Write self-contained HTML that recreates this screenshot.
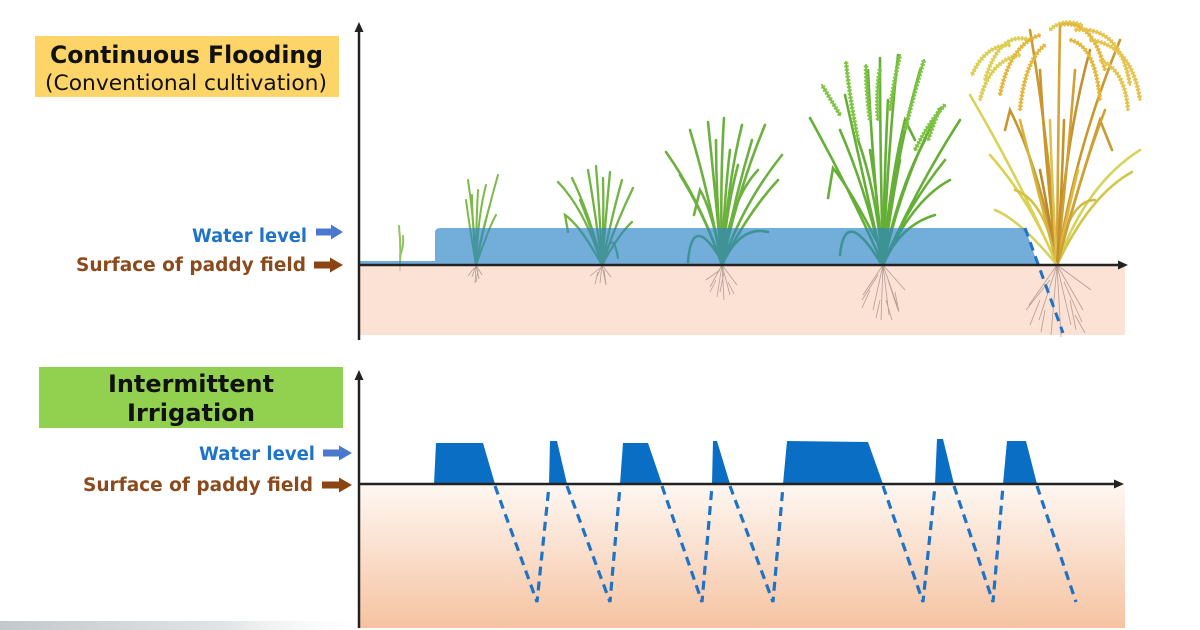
<!DOCTYPE html>
<html><head><meta charset="utf-8"><style>
html,body{margin:0;padding:0;background:#fff;}
svg{display:block;}
text{font-family:"DejaVu Sans","Liberation Sans",sans-serif;}
</style></head><body>
<svg width="1200" height="630" viewBox="0 0 1200 630" xmlns="http://www.w3.org/2000/svg">
<defs>
<linearGradient id="soil2" x1="0" y1="0" x2="0" y2="1">
<stop offset="0" stop-color="#fef7f2"/><stop offset="1" stop-color="#f6c3a1"/></linearGradient>
<linearGradient id="gray" x1="0" y1="0" x2="1" y2="0">
<stop offset="0" stop-color="#c3c8cc"/><stop offset="0.6" stop-color="#e2e5e7"/><stop offset="1" stop-color="#ffffff" stop-opacity="0"/></linearGradient>
<g id="pan5">
<path d="M858,140 Q850,100 846,62"/><path d="M870,120 Q866,90 866,65"/>
<path d="M890,110 Q894,80 900,55"/><path d="M905,130 Q915,90 924,60"/>
<path d="M915,150 Q930,120 945,105"/><path d="M840,115 Q828,95 822,85"/>
<path d="M878,120 Q876,90 880,68"/><path d="M928,140 Q935,120 940,108"/>
</g>
<g id="pan6a">
<path d="M1030,40 Q1000,30 985,80"/><path d="M1050,30 Q1062,18 1082,25"/>
<path d="M1020,55 Q990,60 980,100"/><path d="M1010,45 Q985,45 972,75"/>
</g>
<g id="pan6b">
<path d="M1040,35 Q1010,45 1000,95"/><path d="M1060,25 Q1092,18 1105,70"/>
<path d="M1045,45 Q1025,60 1020,110"/><path d="M1070,40 Q1095,45 1100,100"/>
</g>
<g id="pan6c">
<path d="M1075,30 Q1120,25 1130,85"/><path d="M1090,40 Q1132,45 1140,100"/>
<path d="M1100,60 Q1125,70 1128,110"/>
</g>
</defs>
<rect width="1200" height="630" fill="#fff"/>
<rect x="0" y="621" width="380" height="9" fill="url(#gray)"/>

<!-- ===== TOP PANEL ===== -->
<rect x="35" y="36" width="304" height="61" fill="#fcd467"/>
<text x="50" y="63" font-size="24" font-weight="bold" fill="#111" textLength="273" lengthAdjust="spacingAndGlyphs">Continuous Flooding</text>
<text x="45" y="90" font-size="21" fill="#111" textLength="282" lengthAdjust="spacingAndGlyphs">(Conventional cultivation)</text>

<text x="192" y="242" font-size="18.5" font-weight="bold" fill="#1f74c7" textLength="115" lengthAdjust="spacingAndGlyphs">Water level</text>
<text x="76" y="271" font-size="18.5" font-weight="bold" fill="#8b4a1c" textLength="230" lengthAdjust="spacingAndGlyphs">Surface of paddy field</text>
<polygon points="316,228.5 331,228.5 331,224.5 343,232 331,239.5 331,235.5 316,235.5" fill="#4a78cf"/>
<polygon points="314,261.5 330,261.5 330,257.5 343,265 330,272.5 330,268.5 314,268.5" fill="#8b4513"/>

<!-- soil -->
<rect x="360" y="265" width="765" height="70" fill="#fbe2d4"/>

<!-- roots -->
<g stroke="#9c8680" stroke-width="0.8" fill="none" opacity="0.75">
<path d="M400,265 l0,6"/>
<path d="M476,265 l-4,12 M476,265 l3,14 M476,265 l-1,18 M476,265 l6,10 M474,268 l-6,8 M478,270 l-2,12"/>
<path d="M602,265 l-6,14 M602,265 l-2,18 M602,265 l4,20 M602,265 l9,12 M600,268 l-10,8 M604,270 l2,14 M598,272 l-3,12"/>
<path d="M722,265 l-12,22 M722,265 l-5,32 M722,265 l2,35 M722,265 l8,30 M722,265 l15,20 M720,270 l-14,10 M724,272 l-4,20 M716,280 l-6,12 M728,282 l6,12"/>
<path d="M883,265 l-20,30 M883,265 l-10,45 M883,265 l-2,55 M883,265 l6,50 M883,265 l14,40 M883,265 l22,25 M878,275 l-16,25 M888,280 l10,30 M870,290 l-8,18 M895,292 l4,20 M880,300 l-4,18 M886,300 l6,20"/>
<path d="M1057,265 l-28,40 M1057,265 l-18,55 M1057,265 l-6,70 M1057,265 l4,72 M1057,265 l14,60 M1057,265 l26,45 M1057,265 l34,25 M1050,280 l-24,30 M1064,282 l18,40 M1040,300 l-10,25 M1070,300 l6,30 M1045,310 l-4,22 M1075,315 l10,18"/>
</g>

<!-- plants -->
<g fill="none" stroke-linecap="round">
<!-- plant 1 -->
<g stroke="#8fc460" stroke-width="2">
<path d="M400,263 Q401,245 399,226"/><path d="M400,256 Q404,246 403,236"/>
</g>
<!-- plant 2 -->
<g stroke="#7cb94a" stroke-width="2">
<path d="M476,265 Q474,220 468,180"/><path d="M476,265 Q478,215 486,185"/>
<path d="M476,265 Q485,220 498,175"/><path d="M476,265 Q470,230 466,200"/>
<path d="M476,265 Q482,230 490,205"/><path d="M476,265 Q476,225 478,190"/>
<path d="M476,265 Q472,215 472,195"/><path d="M476,265 Q490,225 496,215"/>
</g>
<!-- plant 3 -->
<g stroke="#72b443" stroke-width="2.3">
<path d="M602,265 Q585,210 558,182"/><path d="M602,265 Q590,215 572,178"/>
<path d="M602,265 Q595,210 588,170"/><path d="M602,265 Q600,215 596,166"/>
<path d="M602,265 Q606,215 610,172"/><path d="M602,265 Q612,215 622,180"/>
<path d="M602,265 Q615,225 633,188"/><path d="M602,265 Q596,240 580,200"/>
<path d="M604,262 Q612,225 618,258"/><path d="M602,265 Q604,220 603,178"/>
<path d="M602,265 Q580,225 565,215 L568,232"/><path d="M602,265 Q618,235 632,222"/>
</g>
<!-- plant 4 -->
<g stroke="#6cb13e" stroke-width="2.6">
<path d="M722,265 Q700,200 666,152"/><path d="M722,265 Q708,190 690,130"/>
<path d="M722,265 Q714,180 708,122"/><path d="M722,265 Q720,180 724,118"/>
<path d="M722,265 Q728,180 742,125"/><path d="M722,265 Q738,190 765,125"/>
<path d="M722,265 Q742,205 782,155"/><path d="M722,265 Q740,225 768,232"/>
<path d="M722,265 Q730,200 758,170"/><path d="M720,258 Q692,212 688,262"/>
<path d="M722,265 Q712,210 700,190 L694,215"/><path d="M722,265 Q724,200 730,150"/>
<path d="M722,265 Q716,200 716,140"/><path d="M722,265 Q734,200 752,140"/>
<path d="M722,265 Q705,215 680,175"/><path d="M722,265 Q746,215 778,180"/>
<path d="M722,265 Q726,210 738,165"/>
</g>
<!-- plant 5 -->
<g stroke="#66af36" stroke-width="2.6">
<path d="M883,265 Q850,190 810,118"/><path d="M883,265 Q862,170 845,95"/>
<path d="M883,265 Q872,160 868,70"/><path d="M883,265 Q880,150 880,58"/>
<path d="M883,265 Q888,150 898,55"/><path d="M883,265 Q895,160 920,70"/>
<path d="M883,265 Q905,170 940,110"/><path d="M883,265 Q915,190 960,120"/>
<path d="M883,265 Q905,210 945,160"/><path d="M883,265 Q900,225 935,215"/>
<path d="M876,240 Q852,192 833,168 L828,198"/><path d="M880,262 Q845,205 840,255"/>
<path d="M883,265 Q890,180 905,120 L915,140"/><path d="M883,265 Q876,190 858,140"/>
<path d="M883,265 Q866,190 840,130"/><path d="M883,265 Q884,180 888,100"/>
<path d="M883,265 Q898,190 925,140"/><path d="M883,265 Q878,200 870,150"/>
<path d="M883,265 Q892,200 900,160"/><path d="M883,265 Q912,200 950,180"/>
</g>
<use href="#pan5" stroke="#78c040" stroke-width="2"/>
<use href="#pan5" stroke="#80c545" stroke-width="4.5" stroke-dasharray="2 1.5" stroke-linecap="butt"/>
<!-- plant 6 -->
<g stroke-width="2.6">
<path d="M1057,265 Q1020,180 970,95" stroke="#d9d35a"/>
<path d="M1057,265 Q1030,200 990,155" stroke="#dcd152"/>
<path d="M1057,265 Q1085,185 1140,150" stroke="#d6d45c"/>
<path d="M1057,265 Q1090,195 1132,172" stroke="#d0c64a"/>
<path d="M1057,265 Q1075,150 1120,40" stroke="#c9992e"/>
<path d="M1057,265 Q1050,150 1030,30" stroke="#c99a30"/>
<path d="M1057,265 Q1058,140 1060,25" stroke="#d2a53a"/>
<path d="M1057,265 Q1065,140 1090,50" stroke="#c49030"/>
<path d="M1057,265 Q1040,170 1010,110 L1005,130" stroke="#c9962e"/>
<path d="M1057,265 Q1080,180 1100,120 L1112,150" stroke="#c89a30"/>
<path d="M1057,265 Q1045,200 1015,190" stroke="#d8c040"/>
<path d="M1057,265 Q1068,200 1095,200" stroke="#d4b844"/>
<path d="M1057,265 Q1048,210 1040,170" stroke="#b88a2a"/>
<path d="M1057,265 Q1068,210 1078,170" stroke="#e0b83c"/>
<path d="M1057,265 Q1045,160 1040,70" stroke="#c8962c"/>
<path d="M1057,265 Q1068,160 1075,70" stroke="#d0a034"/>
<path d="M1057,265 Q1035,180 1020,120" stroke="#d6b440"/>
<path d="M1057,265 Q1082,170 1105,110" stroke="#cfa032"/>
<path d="M1057,265 Q1052,190 1050,120" stroke="#e0c050"/>
<path d="M1057,265 Q1062,190 1064,120" stroke="#c4922c"/>
<path d="M1057,265 Q1020,220 995,210" stroke="#d8d060"/>
</g>
<use href="#pan6a" stroke="#d6cc50" stroke-width="2"/>
<use href="#pan6a" stroke="#dccf55" stroke-width="4.5" stroke-dasharray="2 1.5" stroke-linecap="butt"/>
<use href="#pan6b" stroke="#e0b038" stroke-width="2"/>
<use href="#pan6b" stroke="#e6b83e" stroke-width="4.5" stroke-dasharray="2 1.5" stroke-linecap="butt"/>
<use href="#pan6c" stroke="#e0c048" stroke-width="2"/>
<use href="#pan6c" stroke="#e8c44e" stroke-width="4.5" stroke-dasharray="2 1.5" stroke-linecap="butt"/>
</g>

<!-- water (semi-transparent over plants) -->
<path d="M360,261 L435,261 L435,233 Q435,228 440,228 L1025,228 L1038,265 L360,265 Z" fill="rgb(40,130,200)" fill-opacity="0.65"/>
<line x1="1025" y1="228" x2="1063" y2="333" stroke="#1f73c6" stroke-width="3" stroke-dasharray="9 6"/>

<!-- axes top -->
<g stroke="#222" stroke-width="2.5" fill="none">
<line x1="359" y1="340" x2="359" y2="30"/>
<line x1="359" y1="265" x2="1120" y2="265"/>
</g>
<polygon points="359,22 354.5,32 363.5,32" fill="#222"/>
<polygon points="1128,265 1118,260.5 1118,269.5" fill="#222"/>

<!-- ===== BOTTOM PANEL ===== -->
<rect x="39" y="367" width="304" height="61" fill="#92d050"/>
<text x="108" y="392" font-size="24" font-weight="bold" fill="#111" textLength="166" lengthAdjust="spacingAndGlyphs">Intermittent</text>
<text x="127" y="421" font-size="24" font-weight="bold" fill="#111" textLength="128" lengthAdjust="spacingAndGlyphs">Irrigation</text>

<text x="199" y="460" font-size="18.5" font-weight="bold" fill="#1f74c7" textLength="116" lengthAdjust="spacingAndGlyphs">Water level</text>
<text x="83" y="491" font-size="18.5" font-weight="bold" fill="#8b4a1c" textLength="230" lengthAdjust="spacingAndGlyphs">Surface of paddy field</text>
<polygon points="323,449.5 339,449.5 339,445.5 352,453 339,460.5 339,456.5 323,456.5" fill="#4a78cf"/>
<polygon points="322,481.5 339,481.5 339,477.5 352,485 339,492.5 339,488.5 322,488.5" fill="#8b4513"/>

<rect x="360" y="485" width="765" height="143" fill="url(#soil2)"/>

<g fill="#0a6ec4">
<polygon points="434,484 436,443 483,443 495,484"/>
<polygon points="549,484 550,441 557,441 567,484"/>
<polygon points="620,484 623,443 648,443 662,484"/>
<polygon points="712,484 713,441 717,441 730,484"/>
<polygon points="783,484 787,441 868,442 883,484"/>
<polygon points="935,484 937,439 943,439 954,484"/>
<polygon points="1003,484 1007,441 1026,441 1037,484"/>
</g>
<g stroke="#1f73c6" stroke-width="3.2" fill="none" stroke-dasharray="9 6">
<polyline points="495,486 537,602 549,486"/>
<polyline points="567,486 610,602 620,486"/>
<polyline points="662,486 702,602 712,486"/>
<polyline points="730,486 773,602 783,486"/>
<polyline points="883,486 923,602 935,486"/>
<polyline points="954,486 993,602 1003,486"/>
<polyline points="1037,486 1076,602"/>
</g>

<g stroke="#222" stroke-width="2.5" fill="none">
<line x1="359" y1="628" x2="359" y2="378"/>
<line x1="359" y1="484" x2="1116" y2="484"/>
</g>
<polygon points="359,370 354.5,380 363.5,380" fill="#222"/>
<polygon points="1124,484 1114,479.5 1114,488.5" fill="#222"/>
</svg>
</body></html>
